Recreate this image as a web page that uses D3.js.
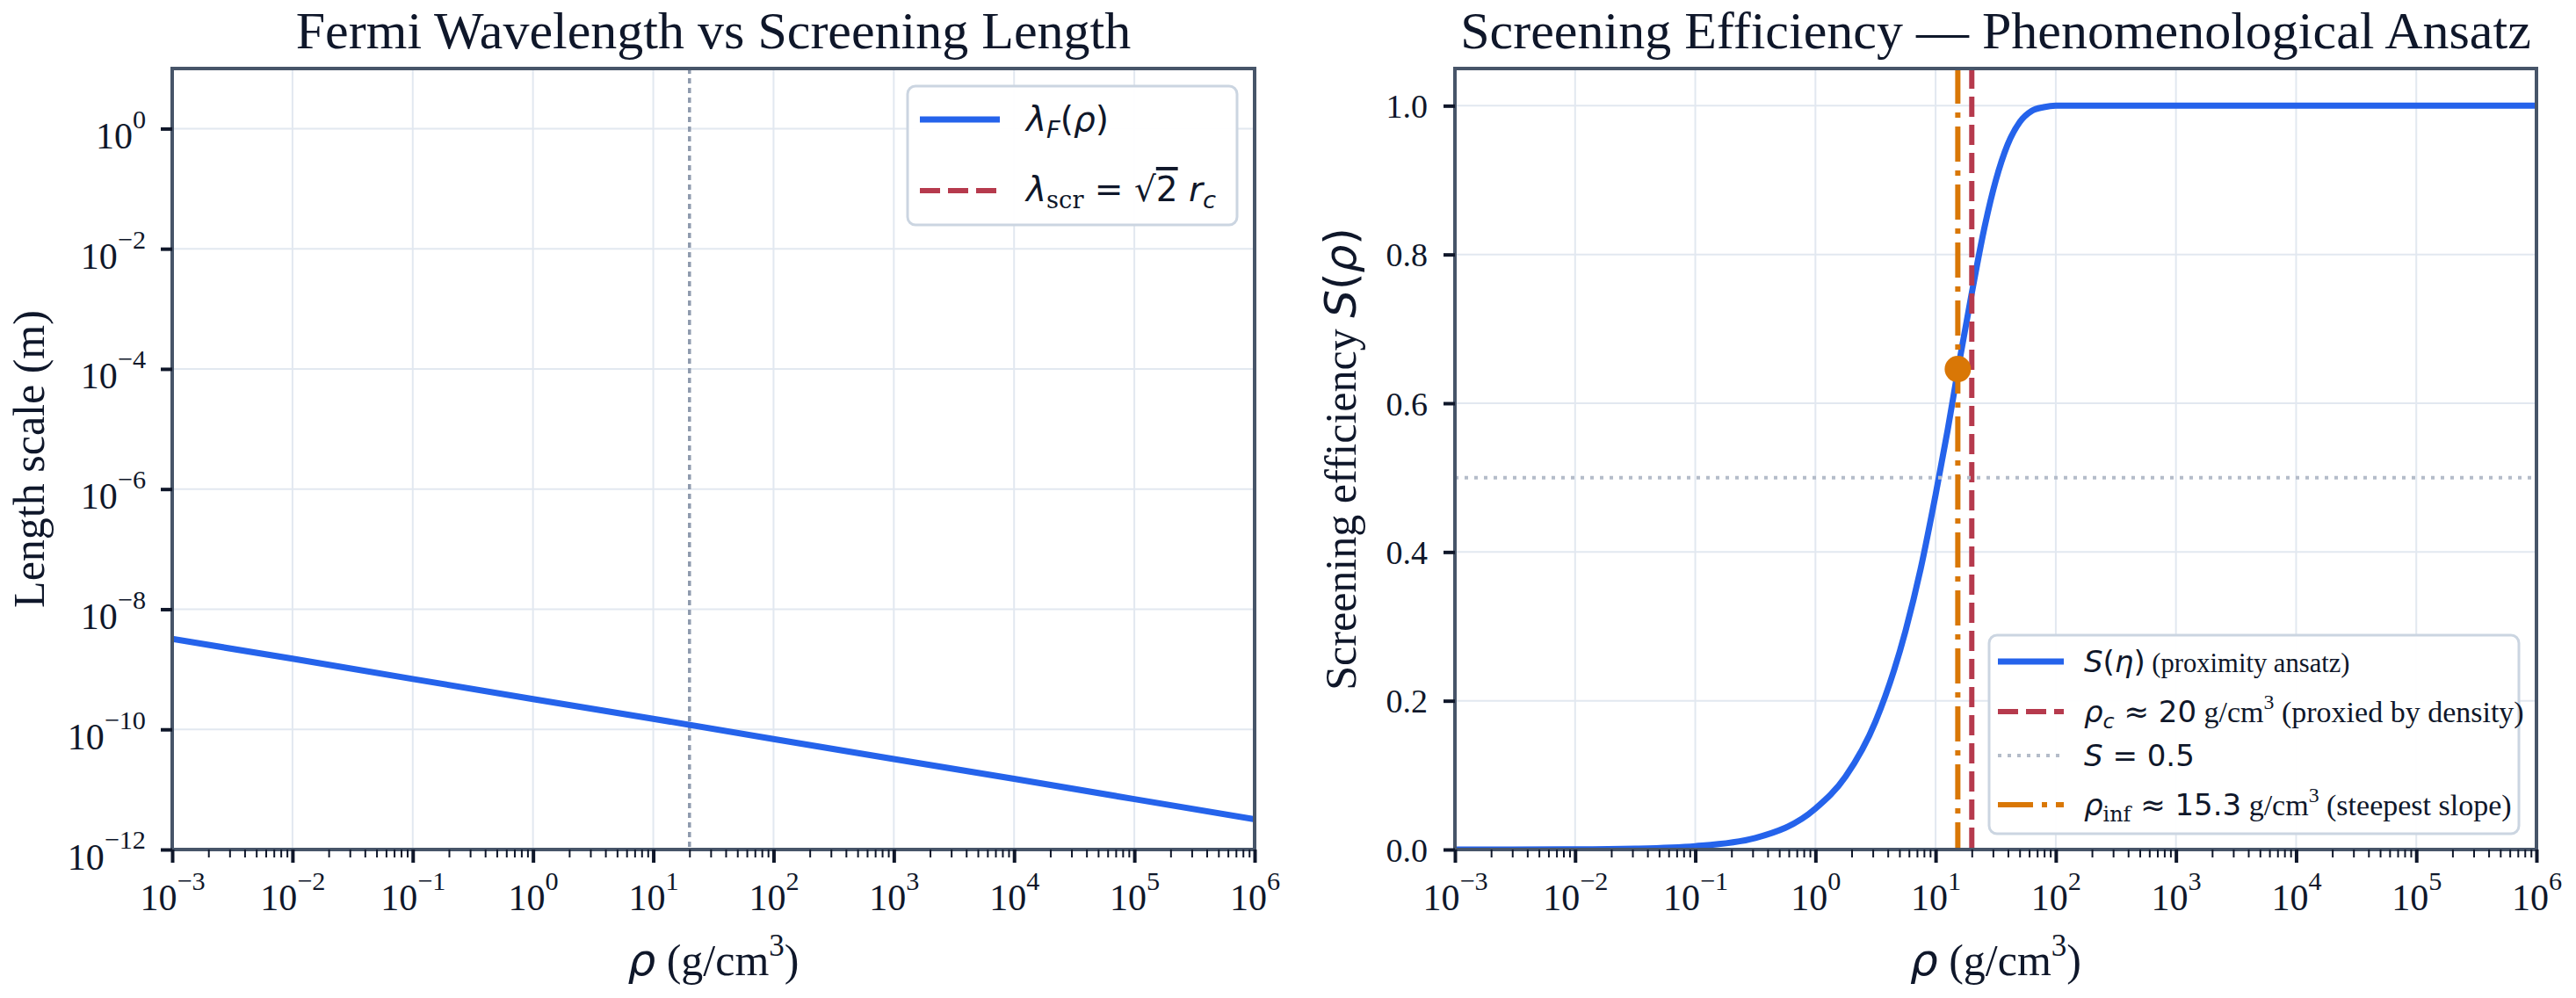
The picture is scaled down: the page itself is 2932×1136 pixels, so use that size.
<!DOCTYPE html>
<html>
<head>
<meta charset="utf-8">
<script src="https://cdn.jsdelivr.net/npm/d3@7"></script>
<style>
  body { margin: 0; background: #fff; }
  svg { display: block; }
  text { white-space: pre; }
</style>
</head>
<body>
<svg width="2932" height="1136"></svg>
<script>
// ---- data ----
const xTickExps = [-3, -2, -1, 0, 1, 2, 3, 4, 5, 6];
const yTickExpsLeft = [-12, -10, -8, -6, -4, -2, 0];
const yTicksRight = [0.0, 0.2, 0.4, 0.6, 0.8, 1.0];

// left panel: Fermi wavelength (m) vs density (g/cm3)
const rhoDecades = [1e-3, 1e-2, 1e-1, 1e0, 1e1, 1e2, 1e3, 1e4, 1e5, 1e6];
const lambdaF = [3.2e-9, 1.5e-9, 6.9e-10, 3.2e-10, 1.5e-10, 6.9e-11, 3.2e-11, 1.5e-11, 6.9e-12, 3.2e-12];

// right panel: screening efficiency
const rhoS = [0.001, 0.01, 0.0316, 0.1, 0.316, 1, 1.78, 3.16, 5.62, 7.5, 10, 12.6, 15.8, 20,
  25.1, 31.6, 39.8, 50.1, 63.1, 79.4, 100, 316, 1000, 1e4, 1e5, 1e6];
const sEta = [0.0000, 0.0003, 0.0012, 0.0045, 0.0155, 0.055, 0.098, 0.172, 0.294, 0.377, 0.477, 0.564, 0.657, 0.748,
  0.831, 0.899, 0.948, 0.978, 0.993, 0.998, 1.0, 1.0, 1.0, 1.0, 1.0, 1.0];

const rhoC = 20;        // critical density
const rhoInf = 15.3;    // steepest slope
const sInf = 0.646;
const sHalf = 0.5;

// ---- style ----
const SERIF = "'Liberation Serif','Times New Roman',serif";
const SANS = "'DejaVu Sans',sans-serif";
const DSERIF = "'DejaVu Serif',serif";
const INK = '#0f172a';
const SPINE = '#475569';
const GRID = '#e2e8f0';
const BLUE = '#2563eb';
const RED = '#b63a4d';
const ORANGE = '#d97706';

const svg = d3.select('svg');
const yTop = 78, yBot = 967;
const tickFs = 38;
const logFs = 42;

// mixed-font text: parts = [{t, f, i, s (scale), sh (shift em, up +)}]
const rich = (sel, parts, fs) => {
  let cur = 0;
  parts.forEach(p => {
    const sh = p.sh || 0;
    sel.append('tspan')
      .attr('dy', ((cur - sh) * fs).toFixed(2))
      .attr('font-family', p.f || SERIF)
      .attr('font-style', p.i ? 'italic' : 'normal')
      .attr('font-size', fs * (p.s || 1))
      .attr('text-decoration', p.o ? 'overline' : null)
      .text(p.t);
    cur = sh;
  });
  return sel;
};

const pow10 = e => [
  {t: '10', f: SERIF},
  {t: (e < 0 ? '\u2212' : '') + Math.abs(e), f: SERIF, s: 0.72, sh: 0.55}
];

const minorVals = () => {
  let out = [];
  xTickExps.slice(0, -1).forEach(e => {
    for (let k = 2; k < 10; k++) out.push(k * Math.pow(10, e));
  });
  return out;
};

function makePanel (x0, x1, id) {
  const g = svg.append('g');
  const x = d3.scaleLog().domain([1e-3, 1e6]).range([x0, x1]);
  g.append('clipPath').attr('id', id)
    .append('rect').attr('x', x0).attr('y', yTop).attr('width', x1 - x0).attr('height', yBot - yTop);
  // vertical grid
  g.append('g').selectAll('line').data(xTickExps).enter().append('line')
    .attr('x1', d => x(Math.pow(10, d))).attr('x2', d => x(Math.pow(10, d)))
    .attr('y1', yTop).attr('y2', yBot)
    .attr('stroke', GRID).attr('stroke-width', 2);
  return {g, x};
}

function drawXAxis (g, x) {
  const minor = g.append('g').attr('transform', `translate(0,${yBot})`)
    .call(d3.axisBottom(x).tickValues(minorVals()).tickSize(9).tickFormat(''));
  minor.select('.domain').remove();
  minor.selectAll('.tick line').attr('stroke', INK).attr('stroke-width', 2);

  const major = g.append('g').attr('transform', `translate(0,${yBot})`)
    .call(d3.axisBottom(x).tickValues(xTickExps.map(e => Math.pow(10, e))).tickSize(15).tickFormat(''));
  major.select('.domain').remove();
  major.selectAll('.tick line').attr('stroke', INK).attr('stroke-width', 4);
  major.selectAll('.tick text').each(function (d) {
    const t = d3.select(this).attr('y', 69).attr('dy', 0).attr('fill', INK);
    rich(t, pow10(Math.round(Math.log10(d))), logFs);
  });
}

function spine (g, x0, x1) {
  g.append('rect').attr('x', x0).attr('y', yTop).attr('width', x1 - x0).attr('height', yBot - yTop)
    .attr('fill', 'none').attr('stroke', SPINE).attr('stroke-width', 4);
}

function xLabel (g, cx) {
  const t = g.append('text').attr('x', cx).attr('y', 1110).attr('text-anchor', 'middle').attr('fill', INK);
  rich(t, [
    {t: '\u03c1', f: SANS, i: 1},
    {t: ' (g/cm'},
    {t: '3', s: 0.7, sh: 0.45},
    {t: ')'}
  ], 50);
}

function legendBox (g, x0, y0, x1, y1) {
  g.append('rect').attr('x', x0).attr('y', y0).attr('width', x1 - x0).attr('height', y1 - y0)
    .attr('rx', 9).attr('fill', '#fff').attr('fill-opacity', 0.95)
    .attr('stroke', '#cbd5e1').attr('stroke-width', 3);
}

function title (g, cx, txt) {
  g.append('text').attr('x', cx).attr('y', 55).attr('text-anchor', 'middle')
    .attr('font-family', SERIF).attr('font-size', 60).attr('fill', INK)
    .text(txt);
}

// ================= LEFT PANEL =================
{
  const x0 = 196, x1 = 1428;
  const {g, x} = makePanel(x0, x1, 'clipL');
  const y = d3.scaleLog().domain([1e-12, 1e1]).range([yBot, yTop]);

  g.append('g').selectAll('line').data(yTickExpsLeft).enter().append('line')
    .attr('x1', x0).attr('x2', x1)
    .attr('y1', d => y(Math.pow(10, d))).attr('y2', d => y(Math.pow(10, d)))
    .attr('stroke', GRID).attr('stroke-width', 2);

  const plot = g.append('g').attr('clip-path', 'url(#clipL)');
  plot.append('line')
    .attr('x1', x(rhoC)).attr('x2', x(rhoC)).attr('y1', yTop).attr('y2', yBot)
    .attr('stroke', '#8f9bae').attr('stroke-width', 3.5).attr('stroke-dasharray', '6,5');

  const line = d3.line().x((d, i) => x(rhoDecades[i])).y(d => y(d));
  plot.append('path').attr('d', line(lambdaF))
    .attr('fill', 'none').attr('stroke', BLUE).attr('stroke-width', 7);

  spine(g, x0, x1);
  drawXAxis(g, x);

  const ya = g.append('g').attr('transform', `translate(${x0},0)`)
    .call(d3.axisLeft(y).tickValues(yTickExpsLeft.map(e => Math.pow(10, e))).tickSize(13).tickFormat(''));
  ya.select('.domain').remove();
  ya.selectAll('.tick line').attr('stroke', INK).attr('stroke-width', 4);
  ya.selectAll('.tick text').each(function (d) {
    const t = d3.select(this).attr('x', -30).attr('y', 22).attr('dy', 0).attr('fill', INK);
    rich(t, pow10(Math.round(Math.log10(d))), logFs);
  });

  title(g, (x0 + x1) / 2, 'Fermi Wavelength vs Screening Length');
  xLabel(g, (x0 + x1) / 2);
  g.append('text').attr('transform', `translate(50,${(yTop + yBot) / 2}) rotate(-90)`)
    .attr('text-anchor', 'middle').attr('font-family', SERIF).attr('font-size', 50).attr('fill', INK)
    .text('Length scale (m)');

  // legend
  legendBox(g, 1033, 98, 1408, 256);
  const lfs = 39;
  g.append('line').attr('x1', 1047).attr('x2', 1138).attr('y1', 136).attr('y2', 136)
    .attr('stroke', BLUE).attr('stroke-width', 7);
  g.append('line').attr('x1', 1047).attr('x2', 1138).attr('y1', 217).attr('y2', 217)
    .attr('stroke', RED).attr('stroke-width', 6).attr('stroke-dasharray', '23,9');
  rich(g.append('text').attr('x', 1168).attr('y', 149).attr('fill', INK), [
    {t: '\u03bb', f: SANS, i: 1},
    {t: 'F', f: SANS, i: 1, s: 0.7, sh: -0.2},
    {t: '(', f: SANS},
    {t: '\u03c1', f: SANS, i: 1},
    {t: ')', f: SANS}
  ], lfs);
  rich(g.append('text').attr('x', 1168).attr('y', 229).attr('fill', INK), [
    {t: '\u03bb', f: SANS, i: 1},
    {t: 'scr', f: DSERIF, s: 0.7, sh: -0.2},
    {t: ' = ', f: SANS},
    {t: '\u221a', f: SANS},
    {t: '2', f: SANS, o: 1},
    {t: ' r', f: SANS, i: 1},
    {t: 'c', f: SANS, i: 1, s: 0.7, sh: -0.2}
  ], lfs);
}

// ================= RIGHT PANEL =================
{
  const x0 = 1656, x1 = 2887;
  const {g, x} = makePanel(x0, x1, 'clipR');
  const y = d3.scaleLinear().domain([0, 1.05]).range([yBot, yTop]);

  g.append('g').selectAll('line').data(yTicksRight).enter().append('line')
    .attr('x1', x0).attr('x2', x1).attr('y1', d => y(d)).attr('y2', d => y(d))
    .attr('stroke', GRID).attr('stroke-width', 2);

  const plot = g.append('g').attr('clip-path', 'url(#clipR)');
  const curve = d3.line().x((d, i) => x(rhoS[i])).y(d => y(d)).curve(d3.curveMonotoneX);
  plot.append('path').attr('d', curve(sEta))
    .attr('fill', 'none').attr('stroke', BLUE).attr('stroke-width', 7);
  plot.append('line').attr('x1', x(rhoC)).attr('x2', x(rhoC)).attr('y1', yTop).attr('y2', yBot)
    .attr('stroke', RED).attr('stroke-width', 6).attr('stroke-dasharray', '23,9');
  plot.append('line').attr('x1', x0).attr('x2', x1).attr('y1', y(sHalf)).attr('y2', y(sHalf))
    .attr('stroke', '#b4bcc9').attr('stroke-width', 4).attr('stroke-dasharray', '4,7');
  plot.append('line').attr('x1', x(rhoInf)).attr('x2', x(rhoInf)).attr('y1', yTop).attr('y2', yBot)
    .attr('stroke', ORANGE).attr('stroke-width', 6).attr('stroke-dasharray', '40,10,6,10');
  plot.append('circle').attr('cx', x(rhoInf)).attr('cy', y(sInf)).attr('r', 15).attr('fill', ORANGE);

  spine(g, x0, x1);
  drawXAxis(g, x);

  const ya = g.append('g').attr('transform', `translate(${x0},0)`)
    .call(d3.axisLeft(y).tickValues(yTicksRight).tickSize(13).tickFormat(d3.format('.1f')));
  ya.select('.domain').remove();
  ya.selectAll('.tick line').attr('stroke', INK).attr('stroke-width', 4);
  ya.selectAll('.tick text').attr('x', -31).attr('dy', 0).attr('y', 13)
    .attr('font-family', SERIF).attr('font-size', tickFs).attr('fill', INK);

  title(g, (x0 + x1) / 2, 'Screening Efficiency \u2014 Phenomenological Ansatz');
  xLabel(g, (x0 + x1) / 2);
  rich(g.append('text').attr('transform', `translate(1543,${(yTop + yBot) / 2}) rotate(-90)`)
    .attr('text-anchor', 'middle').attr('fill', INK), [
    {t: 'Screening efficiency '},
    {t: 'S', f: SANS, i: 1},
    {t: '(', f: SANS},
    {t: '\u03c1', f: SANS, i: 1},
    {t: ')', f: SANS}
  ], 50);

  // legend
  legendBox(g, 2264, 723, 2867, 949);
  const lfs = 34;
  const hx0 = 2274, hx1 = 2349, tx = 2372;
  const rows = [753, 810, 860, 916];
  g.append('line').attr('x1', hx0).attr('x2', hx1).attr('y1', rows[0]).attr('y2', rows[0])
    .attr('stroke', BLUE).attr('stroke-width', 7);
  g.append('line').attr('x1', hx0).attr('x2', hx1).attr('y1', rows[1]).attr('y2', rows[1])
    .attr('stroke', RED).attr('stroke-width', 6).attr('stroke-dasharray', '23,9');
  g.append('line').attr('x1', hx0).attr('x2', hx1).attr('y1', rows[2]).attr('y2', rows[2])
    .attr('stroke', '#b4bcc9').attr('stroke-width', 4).attr('stroke-dasharray', '4,7');
  g.append('line').attr('x1', hx0).attr('x2', hx1).attr('y1', rows[3]).attr('y2', rows[3])
    .attr('stroke', ORANGE).attr('stroke-width', 6).attr('stroke-dasharray', '40,10,6,10');

  rich(g.append('text').attr('x', tx).attr('y', rows[0] + 12).attr('fill', INK), [
    {t: 'S', f: SANS, i: 1},
    {t: '(', f: SANS},
    {t: '\u03b7', f: SANS, i: 1},
    {t: ')', f: SANS},
    {t: ' (proximity ansatz)', s: 0.9}
  ], lfs);
  rich(g.append('text').attr('x', tx).attr('y', rows[1] + 12).attr('fill', INK), [
    {t: '\u03c1', f: SANS, i: 1},
    {t: 'c', f: SANS, i: 1, s: 0.7, sh: -0.2},
    {t: ' \u2248 20', f: SANS},
    {t: ' g/cm'},
    {t: '3', s: 0.7, sh: 0.45},
    {t: ' (proxied by density)'}
  ], lfs);
  rich(g.append('text').attr('x', tx).attr('y', rows[2] + 12).attr('fill', INK), [
    {t: 'S', f: SANS, i: 1},
    {t: ' = 0.5', f: SANS}
  ], lfs);
  rich(g.append('text').attr('x', tx).attr('y', rows[3] + 12).attr('fill', INK), [
    {t: '\u03c1', f: SANS, i: 1},
    {t: 'inf', f: DSERIF, s: 0.7, sh: -0.2},
    {t: ' \u2248 15.3', f: SANS},
    {t: ' g/cm'},
    {t: '3', s: 0.7, sh: 0.45},
    {t: ' (steepest slope)'}
  ], lfs);
}
</script>
</body>
</html>
